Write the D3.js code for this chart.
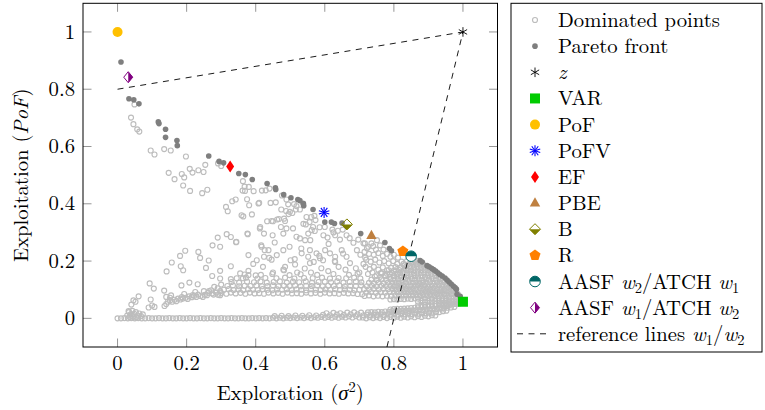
<!DOCTYPE html>
<html><head><meta charset="utf-8">
<script src="https://cdn.jsdelivr.net/npm/d3@7"></script>
<style>body{margin:0;background:#fff}svg{display:block}text{fill:#000}</style>
</head><body><svg id="c" width="765" height="410"></svg>
<script>
// ---------------- DATA ----------------
const xTicks = [0, 0.2, 0.4, 0.6, 0.8, 1];
const yTicks = [0, 0.2, 0.4, 0.6, 0.8, 1];
const xTickLabels = ["0", "0.2", "0.4", "0.6", "0.8", "1"];
const yTickLabels = ["0", "0.2", "0.4", "0.6", "0.8", "1"];

const paretoFront = [
[0.010,0.895],[0.033,0.767],[0.047,0.763],[0.062,0.749],[0.118,0.686],[0.120,0.680],[0.139,0.660],[0.139,0.632],[0.172,0.621],[0.173,0.603],
[0.264,0.567],[0.294,0.548],[0.307,0.543],[0.351,0.506],[0.370,0.502],[0.390,0.485],[0.433,0.471],[0.457,0.456],[0.458,0.450],[0.481,0.432],
[0.502,0.421],[0.522,0.415],[0.528,0.411],[0.538,0.401],[0.539,0.393],[0.566,0.380],[0.600,0.336],[0.619,0.336],[0.628,0.331],[0.650,0.333],
[0.704,0.296],[0.774,0.265],[0.787,0.244],[0.793,0.236],[0.876,0.202],[0.882,0.197],[0.896,0.184],[0.902,0.180],[0.909,0.175],[0.915,0.170],
[0.921,0.165],[0.927,0.159],[0.933,0.153],[0.940,0.148],[0.948,0.141],[0.954,0.134],[0.960,0.127],[0.966,0.120],[0.972,0.113],[0.977,0.108],
[0.981,0.102],[0.983,0.084],[0.992,0.077]
];

const dominatedUpper = [
[0.039,0.701],[0.046,0.678],[0.049,0.747],[0.057,0.660],[0.063,0.652],[0.096,0.586],[0.107,0.572],[0.135,0.591],[0.154,0.586],[0.198,0.565],
[0.148,0.508],[0.165,0.486],[0.186,0.504],[0.193,0.492],[0.190,0.464],[0.210,0.445],[0.209,0.522],[0.217,0.509],[0.234,0.517],[0.249,0.511],
[0.254,0.536],[0.245,0.437],[0.260,0.449],[0.291,0.541],[0.300,0.532]
];

const dominatedMiddle = [
[0.314,0.389],[0.319,0.374],[0.332,0.409],[0.342,0.415],[0.362,0.446],[0.368,0.460],[0.363,0.479],[0.380,0.459],[0.369,0.445],[0.394,0.444],
[0.418,0.446],[0.429,0.447],[0.440,0.453],[0.476,0.429],[0.489,0.415],[0.494,0.398],[0.511,0.399],[0.518,0.392],[0.516,0.380],[0.537,0.401],
[0.375,0.416],[0.381,0.395],[0.410,0.403],[0.443,0.403],[0.458,0.405],[0.474,0.380],[0.488,0.375],[0.499,0.372],[0.506,0.368],[0.528,0.380],
[0.359,0.360],[0.364,0.356],[0.389,0.363],[0.467,0.347],[0.482,0.348],[0.495,0.364],[0.547,0.354],[0.561,0.354],[0.570,0.358],[0.573,0.343],
[0.433,0.339],[0.450,0.339],[0.485,0.340],[0.473,0.319],[0.489,0.314],[0.508,0.314],[0.413,0.319],[0.376,0.296],[0.545,0.328],[0.556,0.336],
[0.566,0.319],[0.600,0.319],[0.622,0.310],[0.638,0.306],[0.652,0.310],[0.408,0.401],[0.446,0.340],[0.462,0.345],[0.538,0.330],[0.552,0.296],
[0.562,0.308],[0.571,0.305],[0.585,0.318],[0.412,0.314],[0.424,0.296],[0.449,0.290],[0.480,0.296],[0.528,0.279],[0.543,0.273],[0.518,0.285],
[0.596,0.290],[0.608,0.282],[0.625,0.300],[0.630,0.290],[0.644,0.275],[0.663,0.290],[0.672,0.280],[0.683,0.264],[0.697,0.275],[0.716,0.262],
[0.726,0.250],[0.740,0.252],[0.751,0.273],[0.417,0.250],[0.437,0.238],[0.424,0.215],[0.446,0.205],[0.461,0.221],[0.480,0.238],[0.485,0.180],
[0.480,0.170],[0.501,0.203],[0.514,0.188],[0.533,0.227],[0.557,0.238],[0.552,0.215],[0.557,0.193],[0.576,0.227],[0.586,0.210],[0.601,0.238],
[0.611,0.260],[0.615,0.227],[0.630,0.215],[0.630,0.197],[0.649,0.238],[0.663,0.215],[0.673,0.193],[0.693,0.238],[0.703,0.222],[0.717,0.212],
[0.712,0.190],[0.403,0.203],[0.393,0.190],[0.377,0.294],[0.379,0.221],[0.275,0.255],[0.290,0.282],[0.297,0.250],[0.316,0.294],[0.328,0.284],
[0.343,0.266],[0.196,0.236],[0.181,0.218],[0.157,0.195],[0.142,0.164],[0.183,0.182],[0.190,0.168],[0.234,0.232],[0.239,0.211],[0.264,0.202],
[0.256,0.176],[0.274,0.148],[0.297,0.166],[0.297,0.139],[0.328,0.182],[0.379,0.166],[0.328,0.137],[0.355,0.157],[0.363,0.140],[0.344,0.267],
[0.416,0.255],[0.426,0.238],[0.455,0.265],[0.498,0.250],[0.532,0.244],[0.558,0.273],[0.439,0.211],[0.421,0.180],[0.482,0.168],[0.513,0.207],
[0.584,0.218],[0.568,0.197],[0.542,0.174],[0.595,0.203],[0.629,0.200],[0.653,0.226],[0.379,0.151],[0.640,0.180],[0.660,0.170],[0.690,0.175],
[0.700,0.160],[0.610,0.165],[0.590,0.175],[0.520,0.160],[0.450,0.160],[0.400,0.150],[0.560,0.160],
[0.712,0.262],[0.722,0.245],[0.735,0.262],[0.748,0.240],[0.760,0.255],[0.770,0.240],[0.715,0.232],[0.728,0.225],[0.742,0.222],[0.755,0.228],
[0.768,0.218],[0.780,0.225],[0.790,0.215],[0.800,0.222],[0.812,0.212],[0.720,0.205],[0.733,0.198],[0.746,0.205],[0.758,0.195],[0.772,0.200],
[0.785,0.192],[0.798,0.200],[0.810,0.190],[0.822,0.198],[0.718,0.180],[0.730,0.172],[0.742,0.180],[0.755,0.170],[0.768,0.178],[0.780,0.168],
[0.792,0.176],[0.805,0.168],[0.818,0.175],[0.830,0.185],[0.838,0.200],[0.725,0.155],[0.738,0.160],[0.750,0.150],[0.762,0.158],[0.775,0.150],
[0.788,0.155],[0.800,0.148],[0.812,0.155],[0.825,0.160],[0.835,0.170],[0.845,0.182],[0.850,0.195]
];

const dominatedBandLeft = [
[0.032,0.025],[0.040,0.048],[0.046,0.063],[0.052,0.058],[0.061,0.077],[0.090,0.038],[0.096,0.066],[0.100,0.045],[0.107,0.040],[0.105,0.104],
[0.093,0.122],[0.136,0.043],[0.141,0.050],[0.141,0.075],[0.135,0.097],[0.146,0.058],[0.152,0.062],[0.152,0.072],[0.158,0.058],[0.165,0.065],
[0.170,0.060],[0.175,0.069],[0.182,0.066],[0.186,0.074],[0.189,0.069],[0.197,0.072],[0.203,0.068],[0.207,0.077],[0.215,0.074],[0.218,0.081],
[0.222,0.079],[0.228,0.075],[0.233,0.083],[0.240,0.078],[0.247,0.075],[0.253,0.082],[0.259,0.081],[0.262,0.089],[0.265,0.095],[0.271,0.098],
[0.274,0.087],[0.278,0.083],[0.285,0.090],[0.291,0.082],[0.297,0.095],[0.297,0.081],[0.185,0.115],[0.208,0.125],[0.232,0.119],[0.155,0.080],
[0.193,0.085],[0.250,0.095],[0.225,0.092],[0.290,0.105],[0.280,0.110],[0.300,0.118]
];

const dominatedBandMid = [
[0.300,0.088],[0.315,0.086],[0.328,0.090],[0.342,0.087],[0.356,0.089],[0.370,0.086],[0.383,0.090],[0.397,0.087],[0.410,0.088],[0.424,0.086],
[0.437,0.090],[0.451,0.087],[0.465,0.089],[0.478,0.086],[0.492,0.090],[0.505,0.087],[0.519,0.088],[0.532,0.086],[0.546,0.090],[0.560,0.087],
[0.573,0.089],[0.587,0.086],[0.600,0.090],[0.614,0.087],[0.628,0.088],[0.641,0.086],[0.655,0.089],[0.668,0.087],[0.682,0.088],[0.695,0.085],
[0.708,0.084],
[0.308,0.100],[0.322,0.102],[0.336,0.099],[0.350,0.101],[0.364,0.098],[0.378,0.102],[0.392,0.100],[0.406,0.099],[0.420,0.102],[0.434,0.100],
[0.448,0.098],[0.462,0.101],[0.476,0.100],[0.490,0.102],[0.504,0.099],[0.518,0.101],[0.532,0.100],[0.546,0.098],[0.560,0.102],[0.574,0.100],
[0.588,0.099],[0.602,0.101],[0.616,0.100],[0.630,0.102],[0.644,0.099],[0.658,0.101],[0.672,0.100],[0.686,0.098],[0.700,0.100],
[0.318,0.113],[0.334,0.115],[0.352,0.112],[0.368,0.114],[0.385,0.113],[0.402,0.115],[0.418,0.112],[0.434,0.113],[0.450,0.115],[0.466,0.112],
[0.482,0.114],[0.498,0.113],[0.514,0.115],[0.530,0.112],[0.546,0.114],[0.562,0.113],[0.578,0.115],[0.594,0.112],[0.610,0.114],[0.626,0.113],
[0.642,0.115],[0.658,0.112],[0.674,0.114],[0.690,0.113],[0.705,0.115],
[0.330,0.127],[0.352,0.125],[0.375,0.128],[0.395,0.126],[0.414,0.129],[0.432,0.125],[0.452,0.127],[0.470,0.129],[0.490,0.125],[0.508,0.128],
[0.526,0.126],[0.545,0.129],[0.563,0.125],[0.582,0.127],[0.600,0.128],[0.618,0.126],[0.636,0.129],[0.654,0.125],[0.672,0.127],[0.690,0.128],
[0.706,0.126],
[0.345,0.140],[0.372,0.142],[0.405,0.139],[0.428,0.141],[0.460,0.140],[0.485,0.142],[0.512,0.139],[0.540,0.141],[0.565,0.140],[0.592,0.142],
[0.615,0.139],[0.640,0.141],[0.662,0.140],[0.685,0.142],[0.703,0.139],
[0.368,0.153],[0.415,0.152],[0.448,0.155],[0.498,0.151],[0.530,0.154],[0.578,0.152],[0.625,0.155],[0.670,0.152],[0.695,0.156]
];

const dominatedBottom = [
[0.000,0.000],[0.010,0.000],[0.020,0.001],[0.030,0.000],[0.040,0.001],[0.050,0.000],[0.060,0.001],[0.070,0.000],[0.080,0.000],[0.090,0.001],
[0.100,0.000],[0.110,0.000],[0.120,0.001],[0.130,0.000],[0.140,0.000],[0.150,0.001],[0.160,0.000],[0.170,0.000],[0.180,0.001],[0.190,0.000],
[0.200,0.000],[0.210,0.001],[0.220,0.000],[0.230,0.000],[0.240,0.001],[0.250,0.000],[0.260,0.000],[0.270,0.001],[0.280,0.000],[0.290,0.000],
[0.300,0.001],[0.310,0.000],[0.320,0.000],[0.330,0.001],[0.340,0.000],[0.350,0.000],[0.360,0.001],[0.370,0.000],[0.380,0.000],[0.390,0.001],
[0.400,0.000],[0.410,0.001],[0.420,0.000],[0.430,0.001],[0.440,0.000],[0.450,0.002],[0.460,0.000],[0.470,0.002],[0.480,0.000],[0.490,0.002],
[0.500,0.001],[0.510,0.003],[0.520,0.001],[0.530,0.003],[0.540,0.001],[0.550,0.004],[0.560,0.001],[0.570,0.004],[0.580,0.002],[0.590,0.005],
[0.600,0.002],[0.610,0.005],[0.620,0.002],[0.630,0.006],[0.640,0.002],[0.650,0.006],[0.660,0.003],[0.670,0.007],[0.680,0.003],[0.690,0.008],
[0.700,0.003],
[0.455,0.008],[0.475,0.009],[0.495,0.008],[0.515,0.010],[0.535,0.009],[0.555,0.011],[0.575,0.010],[0.595,0.012],[0.615,0.011],[0.635,0.013],
[0.655,0.012],[0.675,0.014],[0.695,0.014],
[0.605,0.018],[0.625,0.019],[0.645,0.018],[0.665,0.020],[0.685,0.021],[0.705,0.020],
[0.028,0.010],[0.033,0.022],[0.038,0.014],[0.043,0.026],[0.048,0.016],[0.053,0.022],[0.058,0.010],[0.063,0.017],[0.068,0.008],[0.073,0.014],
[0.035,0.005],[0.045,0.006],[0.055,0.004],
[0.710,0.003],[0.720,0.000],[0.730,0.004],[0.740,0.001],[0.750,0.004],[0.760,0.001],[0.770,0.005],[0.780,0.001],[0.790,0.005],[0.800,0.002],
[0.810,0.006],[0.820,0.002],[0.830,0.006],[0.840,0.003],[0.850,0.007],[0.860,0.004],[0.870,0.008],[0.880,0.005],[0.890,0.009],[0.900,0.007],
[0.910,0.011],[0.920,0.010],
[0.712,0.011],[0.722,0.013],[0.732,0.011],[0.742,0.013],[0.752,0.012],[0.762,0.014],[0.772,0.012],[0.782,0.014],[0.792,0.013],[0.802,0.015],
[0.812,0.013],[0.822,0.015],[0.832,0.014],[0.842,0.016],[0.852,0.015],[0.862,0.017],[0.872,0.016],[0.882,0.018],[0.892,0.018],[0.902,0.020],
[0.912,0.020],[0.922,0.022],[0.932,0.022],[0.942,0.025],[0.952,0.027],
[0.725,0.021],[0.735,0.022],[0.745,0.021],[0.755,0.023],[0.765,0.022],[0.775,0.024],[0.785,0.023],[0.795,0.025],[0.805,0.024],[0.815,0.026],
[0.825,0.025],[0.835,0.027],[0.845,0.026],[0.855,0.028],[0.865,0.028],[0.875,0.029],[0.885,0.029],[0.895,0.030],[0.905,0.031],[0.915,0.032],
[0.925,0.033],[0.935,0.034],[0.945,0.035],[0.955,0.037],[0.965,0.038],[0.975,0.040],
[0.790,0.031],[0.800,0.032],[0.810,0.033],[0.820,0.033],[0.830,0.034],[0.840,0.035],[0.850,0.036],[0.860,0.037],[0.870,0.038],[0.880,0.039],
[0.890,0.040],[0.900,0.041],[0.910,0.042],[0.920,0.043],[0.930,0.044],[0.940,0.045],[0.950,0.046],[0.960,0.047],[0.970,0.049],[0.980,0.050],
[0.990,0.052],
[0.870,0.045],[0.880,0.046],[0.890,0.047],[0.900,0.048],[0.910,0.049],[0.920,0.050],[0.930,0.052],[0.940,0.053],[0.950,0.055],[0.960,0.056],
[0.970,0.058],[0.980,0.059],[0.990,0.061]
];

const dominatedCluster = [
[0.935,0.050],[0.945,0.051],[0.955,0.050],[0.965,0.052],[0.975,0.051],[0.985,0.053],
[0.870,0.058],[0.880,0.060],[0.890,0.058],[0.900,0.060],[0.910,0.059],[0.920,0.061],[0.930,0.060],[0.940,0.062],[0.950,0.061],[0.960,0.062],
[0.970,0.061],[0.980,0.063],[0.990,0.064],
[0.790,0.066],[0.800,0.067],[0.810,0.066],[0.820,0.068],[0.830,0.067],[0.840,0.069],[0.850,0.068],[0.860,0.070],[0.870,0.069],[0.880,0.071],
[0.890,0.070],[0.900,0.071],[0.910,0.070],[0.920,0.072],[0.930,0.071],[0.940,0.072],[0.950,0.071],[0.960,0.073],[0.970,0.072],[0.980,0.074],
[0.990,0.073],
[0.715,0.078],[0.728,0.080],[0.741,0.077],[0.754,0.079],[0.767,0.077],[0.780,0.079],[0.792,0.078],[0.805,0.080],[0.815,0.079],[0.825,0.081],
[0.835,0.080],[0.845,0.081],[0.855,0.080],[0.865,0.082],[0.875,0.080],[0.885,0.082],[0.895,0.081],[0.905,0.082],[0.915,0.081],[0.925,0.083],
[0.935,0.082],[0.945,0.083],[0.955,0.082],[0.965,0.084],[0.975,0.083],[0.985,0.085],
[0.720,0.090],[0.734,0.092],[0.748,0.089],[0.762,0.091],[0.775,0.090],[0.788,0.092],[0.800,0.090],[0.810,0.092],[0.820,0.091],[0.830,0.092],
[0.840,0.091],[0.850,0.093],[0.860,0.091],[0.870,0.092],[0.880,0.091],[0.890,0.093],[0.900,0.092],[0.910,0.093],[0.920,0.091],[0.930,0.093],
[0.940,0.092],[0.950,0.094],[0.960,0.092],[0.970,0.094],[0.980,0.093],
[0.714,0.102],[0.728,0.101],[0.742,0.103],[0.756,0.101],[0.770,0.103],[0.783,0.102],[0.795,0.103],[0.805,0.101],[0.815,0.103],[0.825,0.102],
[0.835,0.103],[0.845,0.101],[0.855,0.103],[0.865,0.102],[0.875,0.104],[0.885,0.102],[0.895,0.103],[0.905,0.102],[0.915,0.104],[0.925,0.102],
[0.935,0.103],[0.945,0.102],[0.955,0.104],[0.965,0.102],[0.973,0.103],
[0.722,0.112],[0.736,0.114],[0.750,0.112],[0.764,0.114],[0.778,0.113],[0.790,0.114],[0.800,0.112],[0.810,0.114],[0.820,0.113],[0.830,0.114],
[0.840,0.112],[0.850,0.114],[0.860,0.113],[0.870,0.115],[0.880,0.113],[0.890,0.114],[0.900,0.112],[0.910,0.114],[0.920,0.113],[0.930,0.115],
[0.940,0.113],[0.950,0.114],[0.960,0.113],[0.968,0.112],
[0.728,0.124],[0.742,0.123],[0.756,0.125],[0.770,0.123],[0.783,0.125],[0.795,0.124],[0.805,0.125],[0.815,0.123],[0.825,0.125],[0.835,0.124],
[0.845,0.126],[0.855,0.124],[0.865,0.125],[0.875,0.123],[0.885,0.125],[0.895,0.124],[0.905,0.126],[0.915,0.124],[0.925,0.125],[0.935,0.124],
[0.945,0.126],[0.955,0.123],
[0.735,0.135],[0.750,0.134],[0.764,0.136],[0.778,0.134],[0.790,0.136],[0.802,0.135],[0.812,0.136],[0.822,0.134],[0.832,0.136],[0.842,0.135],
[0.852,0.137],[0.862,0.135],[0.872,0.136],[0.882,0.134],[0.892,0.136],[0.902,0.135],[0.912,0.137],[0.922,0.135],[0.932,0.136],[0.942,0.134],
[0.745,0.146],[0.760,0.145],[0.775,0.147],[0.788,0.145],[0.800,0.147],[0.810,0.146],[0.820,0.147],[0.830,0.145],[0.840,0.147],[0.850,0.146],
[0.860,0.148],[0.870,0.146],[0.880,0.147],[0.890,0.145],[0.900,0.147],[0.910,0.146],[0.920,0.148],[0.930,0.145],
[0.765,0.157],[0.780,0.156],[0.795,0.158],[0.808,0.156],[0.818,0.158],[0.828,0.157],[0.838,0.158],[0.848,0.156],[0.858,0.158],[0.868,0.157],
[0.878,0.159],[0.888,0.157],[0.898,0.158],[0.908,0.156],[0.918,0.158],
[0.785,0.168],[0.800,0.167],[0.815,0.169],[0.828,0.167],[0.840,0.169],[0.850,0.168],[0.860,0.169],[0.870,0.167],[0.880,0.169],[0.890,0.168],
[0.900,0.169],[0.908,0.167],
[0.805,0.179],[0.820,0.178],[0.835,0.180],[0.848,0.178],[0.858,0.180],[0.868,0.179],[0.878,0.180],[0.888,0.178],[0.896,0.180],
[0.828,0.190],[0.842,0.189],[0.855,0.191],[0.865,0.189],[0.875,0.191],[0.884,0.190],
[0.848,0.200],[0.860,0.199],[0.870,0.201]
];

const idealPoint = [1, 1];                       // z
const methodNames = ["VAR","PoF","PoFV","EF","PBE","B","R","AASF2","AASF1"];
const methodX =     [1.000, 0.000, 0.598, 0.326, 0.735, 0.664, 0.826, 0.850, 0.031];
const methodY =     [0.058, 1.000, 0.370, 0.530, 0.289, 0.328, 0.234, 0.217, 0.842];
const refLineW1 = [[0, 0.8], [1, 1]];
const refLineW2 = [[0.78, -0.1], [1, 1]];

const legendKeys   = ["dom","pareto","z","VAR","PoF","PoFV","EF","PBE","B","R","AASF2","AASF1","ref"];
const legendLabels = ["Dominated points","Pareto front","z","VAR","PoF","PoFV","EF","PBE","B","R",
                      "AASF w2/ATCH w1","AASF w1/ATCH w2","reference lines w1/w2"];

// ---------------- DRAW ----------------
const FONT = "'Latin Modern Roman','CMU Serif','Times New Roman',serif";
const svg = d3.select("#c");
const L = 83, R = 497.5, T = 3.3, B = 347;
const x = d3.scaleLinear().domain([-0.1, 1.1]).range([L, R]);
const y = d3.scaleLinear().domain([-0.1, 1.1]).range([B, T]);

svg.append("defs").append("clipPath").attr("id","clip")
  .append("rect").attr("x",L).attr("y",T).attr("width",R-L).attr("height",B-T);

const plot = svg.append("g").attr("clip-path","url(#clip)");

const COL = {VAR:"#00cc00",PoF:"#ffc000",PoFV:"#0000ff",EF:"#ff0000",PBE:"#bf8040",B:"#808000",R:"#ff8000",AASF2:"#006666",AASF1:"#800080"};
const DOM_R = 2.5, DOM_W = 1.15, DOM_C = "#bdbdbd";

function drawMarker(g, type, cx, cy) {
  const m = g.append("g").attr("transform", `translate(${cx},${cy})`);
  switch (type) {
    case "dom":
      m.append("circle").attr("r",DOM_R).attr("fill","none").attr("stroke",DOM_C).attr("stroke-width",DOM_W); break;
    case "pareto":
      m.append("circle").attr("r",2.8).attr("fill","#7f7f7f"); break;
    case "z":
      [90, 30, 150].forEach(a => {
        const r = 4.8, c = Math.cos(a*Math.PI/180)*r, s = Math.sin(a*Math.PI/180)*r;
        m.append("line").attr("x1",-c).attr("y1",-s).attr("x2",c).attr("y2",s).attr("stroke","#000").attr("stroke-width",0.9);
      }); break;
    case "VAR":
      m.append("rect").attr("x",-5).attr("y",-5).attr("width",10).attr("height",10).attr("fill",COL.VAR); break;
    case "PoF":
      m.append("circle").attr("r",5).attr("fill",COL.PoF); break;
    case "PoFV":
      [90, 54, 18, 162, 126].forEach(a => {
        const r = 5.5, c = Math.cos(a*Math.PI/180)*r, s = Math.sin(a*Math.PI/180)*r;
        m.append("line").attr("x1",-c).attr("y1",-s).attr("x2",c).attr("y2",s).attr("stroke",COL.PoFV).attr("stroke-width",1.1);
      }); break;
    case "EF":
      m.append("path").attr("d","M0,-6L4,0L0,6L-4,0Z").attr("fill",COL.EF); break;
    case "PBE":
      m.append("path").attr("d","M0,-5.8L5.2,3.4L-5.2,3.4Z").attr("fill",COL.PBE); break;
    case "B":
      m.append("path").attr("d","M-5.5,0L5.5,0L0,5.5Z").attr("fill",COL.B);
      m.append("path").attr("d","M0,-5.5L5.5,0L0,5.5L-5.5,0Z").attr("fill","none").attr("stroke",COL.B).attr("stroke-width",1); break;
    case "R": {
      const pts = d3.range(5).map(i => { const a = -Math.PI/2 + i*2*Math.PI/5; return [Math.cos(a)*5.8, Math.sin(a)*5.8]; });
      m.append("path").attr("d","M"+pts.map(p=>p.join(",")).join("L")+"Z").attr("fill",COL.R); break; }
    case "AASF2":
      m.append("circle").attr("r",5.3).attr("fill","#fff").attr("stroke",COL.AASF2).attr("stroke-width",1);
      m.append("path").attr("d","M-5.3,0A5.3,5.3 0 0 1 5.3,0Z").attr("fill",COL.AASF2); break;
    case "AASF1":
      m.append("path").attr("d","M0,-5.5L4.5,0L0,5.5Z").attr("fill",COL.AASF1);
      m.append("path").attr("d","M0,-5.5L4.5,0L0,5.5L-4.5,0Z").attr("fill","none").attr("stroke",COL.AASF1).attr("stroke-width",1); break;
    case "ref":
      m.append("line").attr("x1",-18).attr("x2",15).attr("y1",0).attr("y2",0).attr("stroke","#000").attr("stroke-width",0.9).attr("stroke-dasharray","6,5.5"); break;
  }
}

// dominated points
const dominated = [].concat(dominatedUpper, dominatedMiddle, dominatedBandLeft, dominatedBandMid, dominatedBottom, dominatedCluster);
plot.append("g").selectAll("circle").data(dominated).join("circle")
  .attr("cx", d => x(d[0])).attr("cy", d => y(d[1])).attr("r", DOM_R)
  .attr("fill","none").attr("stroke",DOM_C).attr("stroke-width",DOM_W);

// pareto front
plot.append("g").selectAll("circle").data(paretoFront).join("circle")
  .attr("cx", d => x(d[0])).attr("cy", d => y(d[1])).attr("r", 2.8).attr("fill","#7f7f7f");

// reference lines
const line = d3.line().x(d => x(d[0])).y(d => y(d[1]));
[refLineW1, refLineW2].forEach(l => plot.append("path").attr("d", line(l)).attr("fill","none")
  .attr("stroke","#000").attr("stroke-width",0.9).attr("stroke-dasharray","6,5.5"));

// methods
const mg = plot.append("g");
drawMarker(mg, "z", x(idealPoint[0]), y(idealPoint[1]));
methodNames.forEach((n,i) => drawMarker(mg, n, x(methodX[i]), y(methodY[i])));

// axes frame + ticks (inward, all four sides)
const tickLen = 8.5;
const tg = svg.append("g").attr("stroke","#8a8a8a").attr("stroke-width",0.9);
xTicks.forEach(t => {
  tg.append("line").attr("x1",x(t)).attr("x2",x(t)).attr("y1",B).attr("y2",B-tickLen);
  tg.append("line").attr("x1",x(t)).attr("x2",x(t)).attr("y1",T).attr("y2",T+tickLen);
});
yTicks.forEach(t => {
  tg.append("line").attr("y1",y(t)).attr("y2",y(t)).attr("x1",L).attr("x2",L+tickLen);
  tg.append("line").attr("y1",y(t)).attr("y2",y(t)).attr("x1",R).attr("x2",R-tickLen);
});
svg.append("rect").attr("x",L).attr("y",T).attr("width",R-L).attr("height",B-T)
  .attr("fill","none").attr("stroke","#000").attr("stroke-width",1);

// tick labels
const FS = 20.7;
svg.append("g").selectAll("text").data(xTicks).join("text")
  .attr("font-family",FONT)
  .attr("x", d => x(d)).attr("y", 370).attr("text-anchor","middle").attr("font-size",FS)
  .text((d,i) => xTickLabels[i]);
svg.append("g").selectAll("text").data(yTicks).join("text")
  .attr("font-family",FONT)
  .attr("x", 75).attr("y", d => y(d) + 6.7).attr("text-anchor","end").attr("font-size",FS)
  .text((d,i) => yTickLabels[i]);

// axis labels
const xl = svg.append("text").attr("font-family",FONT).attr("x", x(0.5)).attr("y", 400).attr("text-anchor","middle").attr("font-size",FS);
xl.append("tspan").text("Exploration (");
xl.append("tspan").attr("font-style","italic").text("σ");
xl.append("tspan").attr("font-size",14.5).attr("dy",-8).text("2");
xl.append("tspan").attr("dy",8).text(")");

const yl = svg.append("text").attr("font-family",FONT).attr("transform",`translate(28,${(T+B)/2}) rotate(-90)`).attr("text-anchor","middle").attr("font-size",FS);
yl.append("tspan").text("Exploitation (");
yl.append("tspan").attr("font-style","italic").text("PoF");
yl.append("tspan").text(")");

// legend
const LX = 511, LT = 3.3, LB = 352, LR = 762;
svg.append("rect").attr("x",LX).attr("y",LT).attr("width",LR-LX).attr("height",LB-LT)
  .attr("fill","#fff").attr("stroke","#000").attr("stroke-width",1);
const lg = svg.append("g");
function richLabel(t, s) {
  if (s === "z") { t.append("tspan").attr("font-style","italic").text("z"); return; }
  const parts = s.split(/(w[12])/);
  let shifted = false;
  parts.forEach(p => {
    if (p === "") return;
    if (/^w[12]$/.test(p)) {
      const ts = t.append("tspan").attr("font-style","italic").text("w");
      if (shifted) { ts.attr("dy", -4); }
      t.append("tspan").attr("font-size",14.5).attr("dy",4).text(p[1]);
      shifted = true;
    } else {
      const ts = t.append("tspan").text(p);
      if (shifted) { ts.attr("dy",-4); shifted = false; }
    }
  });
}
legendKeys.forEach((k,i) => {
  const cy = 20 + i*26.15;
  drawMarker(lg, k, 535, cy);
  const t = lg.append("text").attr("font-family",FONT).attr("x",558).attr("y",cy+7).attr("font-size",FS);
  richLabel(t, legendLabels[i]);
});
</script></body></html>
